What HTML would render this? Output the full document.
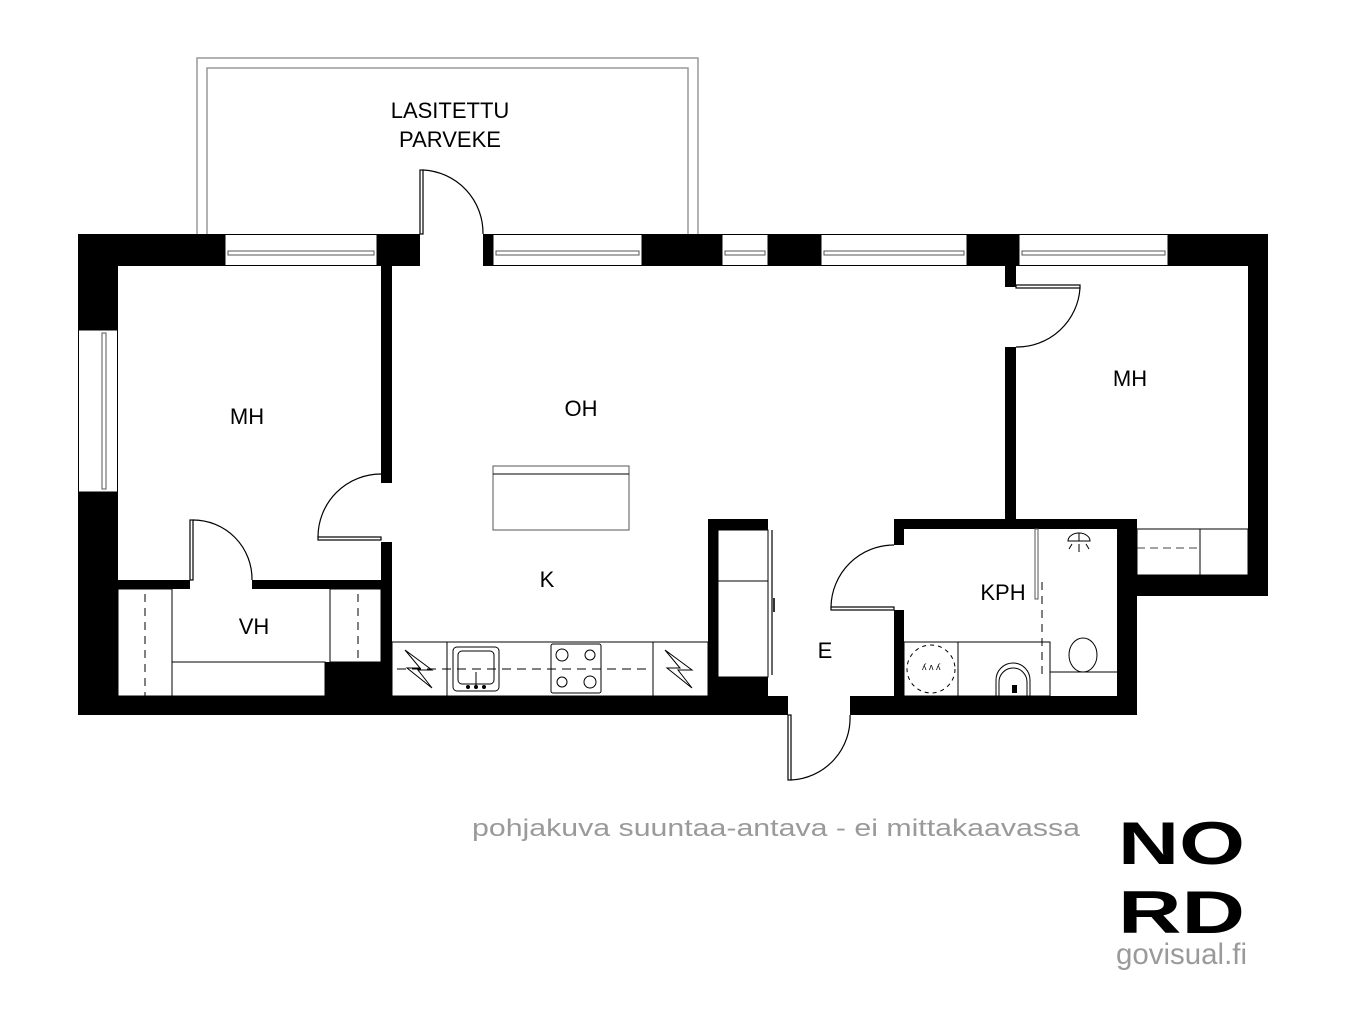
<!DOCTYPE html>
<html><head><meta charset="utf-8"><style>
html,body{margin:0;padding:0;background:#fff;}
svg{display:block;}
text{font-family:"Liberation Sans",Arial,sans-serif;}
</style></head><body>
<svg width="1366" height="1025" viewBox="0 0 1366 1025" xmlns="http://www.w3.org/2000/svg">
<rect width="1366" height="1025" fill="#fff"/>
<path d="M197 234 V58 H698 V234" fill="none" stroke="#999" stroke-width="1.5"/>
<path d="M207 234 V68 H688 V234" fill="none" stroke="#999" stroke-width="1.5"/>
<text x="450" y="118" font-size="22" text-anchor="middle">LASITETTU</text>
<text x="450" y="147" font-size="22" text-anchor="middle">PARVEKE</text>

<g fill="#000">
<rect x="78" y="234" width="147" height="32"/>
<rect x="377" y="234" width="43" height="32"/>
<rect x="483" y="234" width="10" height="32"/>
<rect x="642" y="234" width="80" height="32"/>
<rect x="768" y="234" width="53" height="32"/>
<rect x="967" y="234" width="52" height="32"/>
<rect x="1168" y="234" width="100" height="32"/>
<rect x="78" y="234" width="40" height="96"/>
<rect x="78" y="492" width="40" height="223"/>
<rect x="1248" y="234" width="20" height="362"/>
<rect x="1137" y="575" width="131" height="21"/>
<rect x="1117" y="519" width="20" height="196"/>
<rect x="78" y="696" width="710" height="19"/>
<rect x="850" y="696" width="287" height="19"/>
<rect x="381" y="266" width="11" height="217"/>
<rect x="381" y="542" width="11" height="154"/>
<rect x="118" y="580" width="72" height="9"/>
<rect x="252" y="580" width="130" height="9"/>
<rect x="325" y="662" width="57" height="34"/>
<rect x="1005" y="266" width="11" height="21"/>
<rect x="1005" y="347" width="11" height="173"/>
<rect x="894" y="519" width="243" height="10"/>
<rect x="894" y="519" width="10" height="26"/>
<rect x="894" y="610" width="10" height="86"/>
<rect x="708" y="519" width="60" height="11"/>
<rect x="708" y="519" width="10" height="177"/>
<rect x="708" y="677" width="60" height="19"/>
<rect x="768" y="696" width="20" height="19"/>
</g>

<g fill="#fff" stroke="#000" stroke-width="1">
<rect x="225" y="234.5" width="152" height="31"/>
<rect x="493" y="234.5" width="149" height="31"/>
<rect x="722" y="234.5" width="46" height="31"/>
<rect x="821" y="234.5" width="146" height="31"/>
<rect x="1019" y="234.5" width="149" height="31"/>
<rect x="78.5" y="330" width="39" height="162"/>
</g>
<g fill="none" stroke="#555" stroke-width="1">
<rect x="228" y="251" width="146" height="4"/>
<rect x="496" y="251" width="143" height="4"/>
<rect x="725" y="251" width="40" height="4"/>
<rect x="824" y="251" width="140" height="4"/>
<rect x="1022" y="251" width="143" height="4"/>
<rect x="102" y="333" width="4" height="156"/>
</g>

<g fill="none" stroke="#000" stroke-width="1.2">
<rect x="420" y="170" width="3" height="64"/>
<path d="M423 170 A63 63 0 0 1 483 234"/>
<rect x="318" y="537" width="63" height="3"/>
<path d="M318 537 A63 63 0 0 1 381 474"/>
<rect x="190" y="520" width="3" height="60"/>
<path d="M193 520 A59 59 0 0 1 252 580"/>
<rect x="1016" y="285" width="64" height="3"/>
<path d="M1080 288 A63 63 0 0 1 1016 347"/>
<rect x="831" y="607" width="63" height="3"/>
<path d="M831 607 A63 63 0 0 1 894 545"/>
<rect x="788" y="715" width="3" height="65"/>
<path d="M791 780 A62 62 0 0 0 850 715"/>
</g>

<g fill="none" stroke="#000" stroke-width="1">
<rect x="118" y="589" width="54" height="107"/>
<rect x="172" y="662" width="153" height="34"/>
<rect x="330" y="589" width="51" height="73"/>
</g>
<g stroke="#000" stroke-width="1" stroke-dasharray="8,6">
<line x1="145" y1="594" x2="145" y2="696"/>
<line x1="358" y1="594" x2="358" y2="662"/>
<line x1="1042" y1="582" x2="1042" y2="677"/>
</g>

<rect x="493" y="466" width="136" height="64" fill="none" stroke="#555" stroke-width="1"/>
<line x1="493" y1="474" x2="629" y2="474" stroke="#000" stroke-width="1"/>

<g fill="none" stroke="#000" stroke-width="1">
<rect x="392" y="642" width="316" height="54"/>
<line x1="447" y1="642" x2="447" y2="696"/>
<line x1="653" y1="642" x2="653" y2="696"/>
<rect x="453" y="647" width="46" height="44" rx="4"/>
<rect x="458" y="651" width="36" height="33" rx="4"/>
<line x1="476" y1="672" x2="476" y2="687"/>
<rect x="551" y="644" width="50" height="49" rx="2"/>
<circle cx="562" cy="655" r="6"/><circle cx="590" cy="655" r="5"/>
<circle cx="562" cy="682" r="5"/><circle cx="590" cy="682" r="6"/>
<path d="M405 650 L420 668 L407 668 L432 688 L418 670 L432 670 Z"/>
<path d="M665 650 L680 668 L667 668 L692 688 L678 670 L692 670 Z"/>
</g>
<g fill="#000"><circle cx="468" cy="687" r="2"/><circle cx="476" cy="687" r="2"/><circle cx="484" cy="687" r="2"/></g>
<line x1="397" y1="669" x2="648" y2="669" stroke="#000" stroke-width="1" stroke-dasharray="9,6"/>

<g fill="none" stroke="#000" stroke-width="1">
<rect x="718" y="530" width="50" height="147"/>
<line x1="718" y1="581" x2="768" y2="581"/>
</g>
<rect x="771" y="530" width="2" height="145" fill="#666"/>
<rect x="773" y="598" width="2" height="14" fill="#333"/>

<g fill="none" stroke="#000" stroke-width="1">
<rect x="1137" y="529" width="111" height="46"/>
<line x1="1200" y1="529" x2="1200" y2="575"/>
</g>
<line x1="1137" y1="548" x2="1200" y2="548" stroke="#444" stroke-width="1" stroke-dasharray="8,5"/>

<g fill="none" stroke="#000" stroke-width="1">
<rect x="1035" y="529" width="3" height="70" stroke="#555"/>
<rect x="904" y="642" width="146" height="54"/>
<line x1="958" y1="642" x2="958" y2="696"/>
<line x1="1050" y1="672" x2="1117" y2="672"/>
<ellipse cx="1083" cy="655" rx="14" ry="17"/>
<path d="M996 696 L996 680 A17 17 0 0 1 1030 680 L1030 696"/>
<path d="M999 696 L999 682 A14 14 0 0 1 1027 682 L1027 696"/>
<circle cx="931" cy="669" r="24" stroke-dasharray="4,4"/>
<path d="M1068 541 A11 8 0 0 1 1090 541 Z"/>
<path d="M1079 533 V541 M1072 544 L1069 549 M1079 544 V552 M1086 544 L1089 549"/>
</g>
<rect x="1012" y="685" width="5" height="8" fill="#000"/>
<text x="922" y="670" font-size="9" fill="#000">ʎ ᴧ ʎ</text>

<g font-size="22" fill="#000" text-anchor="middle">
<text x="247" y="424">MH</text>
<text x="581" y="416">OH</text>
<text x="1130" y="386">MH</text>
<text x="547" y="587">K</text>
<text x="254" y="634">VH</text>
<text x="1003" y="600">KPH</text>
<text x="825" y="658">E</text>
</g>

<text x="472" y="836" font-size="24" fill="#9a9a9a" textLength="608" lengthAdjust="spacingAndGlyphs">pohjakuva suuntaa-antava - ei mittakaavassa</text>

<g font-weight="bold" fill="#000" font-size="60">
<text x="1118" y="864" textLength="127" lengthAdjust="spacingAndGlyphs">NO</text>
<text x="1118" y="933" textLength="127" lengthAdjust="spacingAndGlyphs">RD</text>
</g>
<text x="1116" y="964" font-size="30" fill="#9a9a9a" textLength="131" lengthAdjust="spacingAndGlyphs">govisual.fi</text>
</svg>
</body></html>
